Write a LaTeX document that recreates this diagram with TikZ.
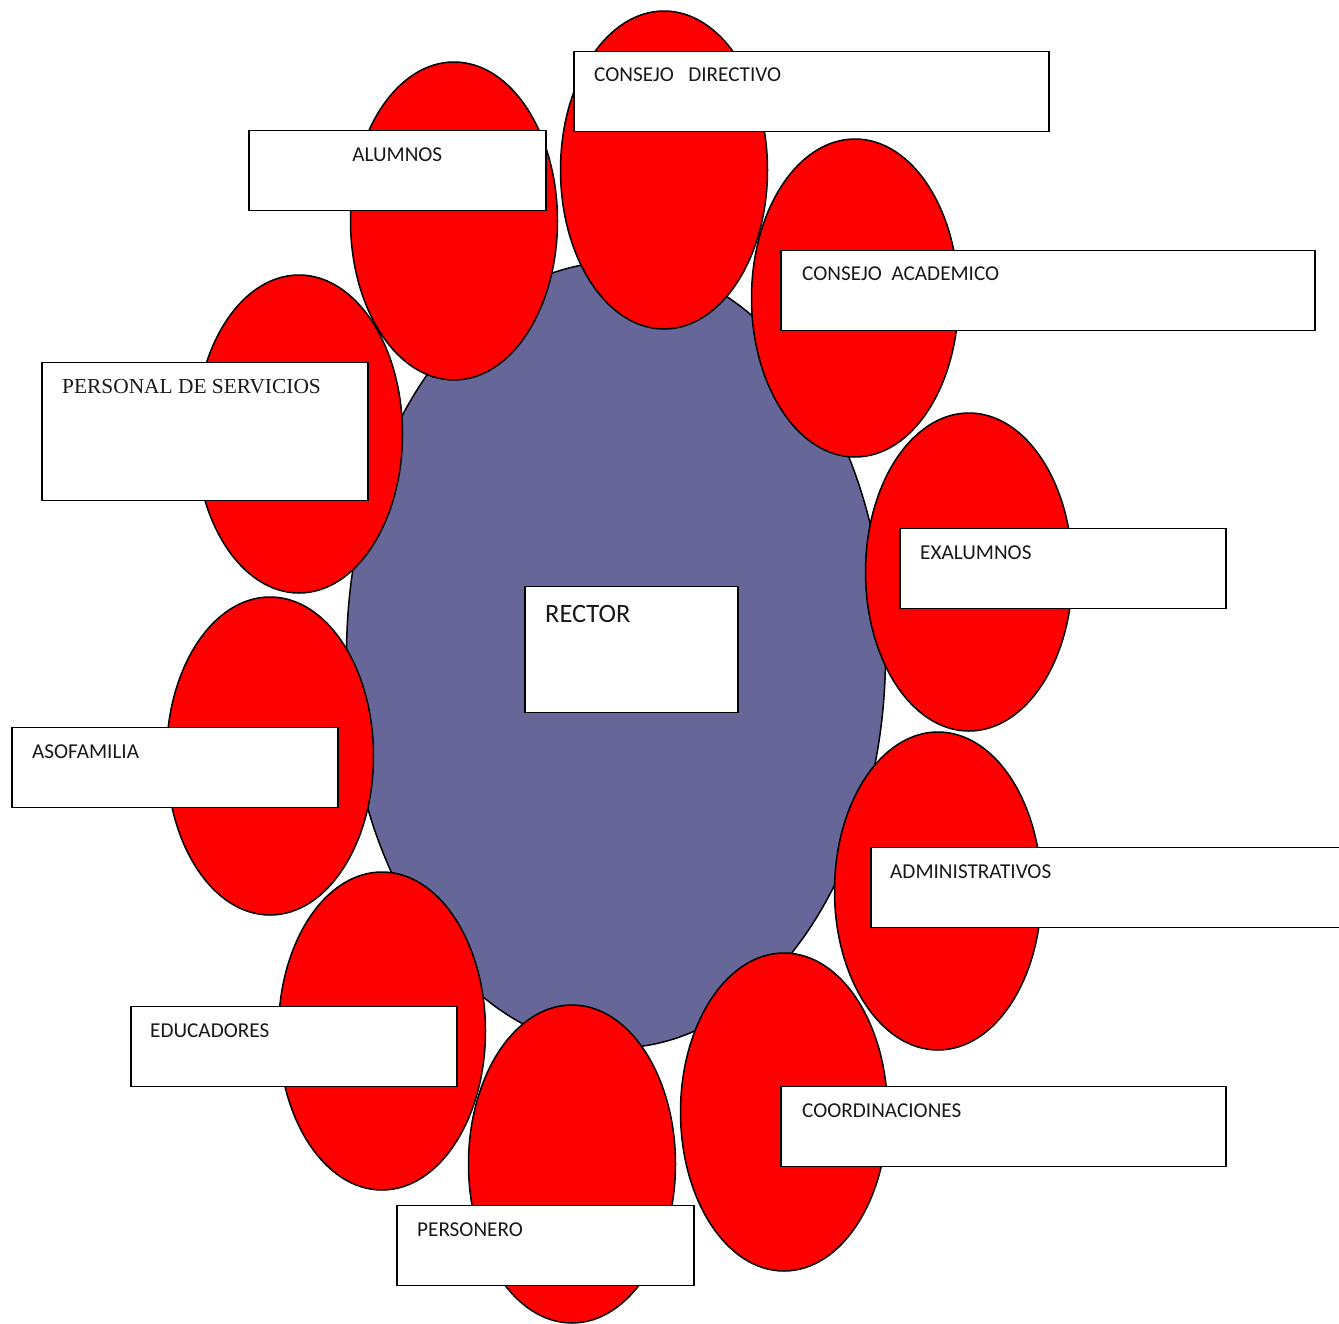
\documentclass[tikz,border=0pt]{standalone}
\usepackage{fontspec}
\setmainfont{Carlito}
\newfontfamily\timesfont{Liberation Serif}
\usetikzlibrary{calc,shapes.geometric}
\definecolor{rectorblue}{HTML}{666699}
\tikzstyle{petal}=[ellipse, draw, fill=red, line width=1.5pt, minimum width=207pt, minimum height=318pt, inner sep=0pt]
\tikzstyle{card}=[rectangle, draw, fill=white, line width=1.5pt, anchor=north west, inner sep=0pt, minimum height=80pt]
\tikzstyle{caption}=[anchor=base west, inner sep=0pt, text=black!90, font=\fontsize{21.2}{25}\selectfont]

\begin{document}
\begin{tikzpicture}[x=1pt, y=-1pt]
\useasboundingbox (0,0) rectangle (1339,1323);
\clip (0,0) rectangle (1339,1323);
\fill [white] (0,0) rectangle (1339,1323);

\node (center) [ellipse, draw, fill=rectorblue, line width=1.5pt, minimum width=539pt, minimum height=786pt] at (616,655) {};

\node (pDirectivo) [petal] at (664,170) {};
\node (pAlumnos) [petal] at (454,221) {};
\node (pAcademico) [petal] at (855,298) {};
\node (pServicios) [petal] at (299,434) {};
\node (pExalumnos) [petal] at (969,572) {};
\node (pAsofamilia) [petal] at (270,756) {};
\node (pAdministrativos) [petal] at (938,891) {};
\node (pEducadores) [petal] at (382,1031) {};
\node (pCoordinaciones) [petal] at (784,1112) {};
\node (pPersonero) [petal] at (572,1164) {};

\node (directivo) [card, minimum width=475pt] at (573,50.5) {};
\node (alumnos) [card, minimum width=297pt] at (248,129.5) {};
\node (academico) [card, minimum width=534pt] at (780,249.5) {};
\node (servicios) [card, minimum width=326pt, minimum height=138pt] at (41,361.5) {};
\node (exalumnos) [card, minimum width=326pt] at (899,527.5) {};
\node (rector) [card, minimum width=213pt, minimum height=126pt] at (524,585.5) {};
\node (asofamilia) [card, minimum width=326pt] at (11,726.5) {};
\node (administrativos) [card, minimum width=490pt] at (870,846.5) {};
\node (educadores) [card, minimum width=326pt] at (130,1005.5) {};
\node (coordinaciones) [card, minimum width=445pt] at (780,1085.5) {};
\node (personero) [card, minimum width=297pt] at (396,1204.5) {};

\node (directivoText) [caption] at ($(directivo.north west)+(21,31)$) {CONSEJO\ \ \ DIRECTIVO};
\node (alumnosText) [caption, anchor=base] at ($(alumnos.north)+(0,31.5)$) {ALUMNOS};
\node (academicoText) [caption] at ($(academico.north west)+(22,31)$) {CONSEJO\ \ ACADEMICO};
\node (serviciosText) [caption, font=\timesfont\fontsize{21.4}{25}\selectfont] at ($(servicios.north west)+(21,31.5)$) {PERSONAL DE SERVICIOS};
\node (exalumnosText) [caption] at ($(exalumnos.north west)+(21,31.5)$) {EXALUMNOS};
\node (rectorText) [caption, font=\fontsize{26.5}{30}\selectfont] at ($(rector.north west)+(21,36.5)$) {RECTOR};
\node (asofamiliaText) [caption] at ($(asofamilia.north west)+(21,31.5)$) {ASOFAMILIA};
\node (administrativosText) [caption] at ($(administrativos.north west)+(20,31.5)$) {ADMINISTRATIVOS};
\node (educadoresText) [caption] at ($(educadores.north west)+(20,31.5)$) {EDUCADORES};
\node (coordinacionesText) [caption] at ($(coordinaciones.north west)+(22,31.5)$) {COORDINACIONES};
\node (personeroText) [caption] at ($(personero.north west)+(21,31.5)$) {PERSONERO};
\end{tikzpicture}
\end{document}
